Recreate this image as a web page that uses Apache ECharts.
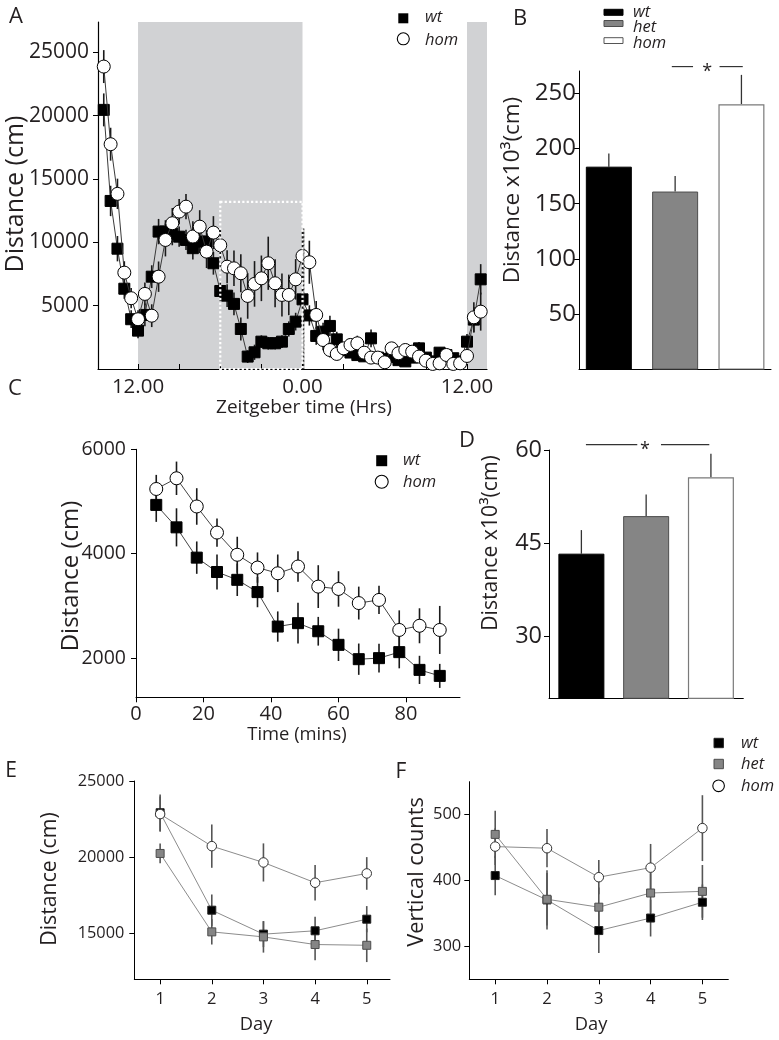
<!DOCTYPE html>
<html><head><meta charset="utf-8">
<script src="https://cdn.jsdelivr.net/npm/echarts@6/dist/echarts.min.js"></script>
<style>html,body{margin:0;padding:0;background:#fff}#c{width:779px;height:1040px}</style>
</head><body><div id="c"></div>
<script>
// ---------- Panel A: 24h activity (ZT hours, 30-min bins) ----------
const timeA = [9.5,10,10.5,11,11.5,12,12.5,13,13.5,14,14.5,15,15.5,16,16.5,17,17.5,18,18.5,19,19.5,20,20.5,21,21.5,22,22.5,23,23.5,24,24.5,25,25.5,26,26.5,27,27.5,28,28.5,29,29.5,30,30.5,31,31.5,32,32.5,33,33.5,34,34.5,35,35.5,36,36.5,37];
const wtA = [20460,13270,9500,6340,3930,3030,4270,7290,10850,10850,10670,10450,10190,9540,10060,10060,8350,6160,5790,5140,3160,980,1320,2160,2030,2030,2160,3160,3740,5500,4230,2610,2950,3400,2340,1500,1300,1100,1000,2420,900,800,950,700,600,900,1630,900,600,1290,1100,850,600,2160,3900,7080];
const homA = [23880,17750,13830,7610,5590,3930,5930,4210,7290,10190,11510,12430,12820,10460,11240,9270,10770,9770,8080,7950,7560,5770,6720,7160,8350,6770,5850,5850,7080,8930,8430,4270,2290,1500,1190,1630,1900,2030,1290,900,900,530,1630,1240,1500,1370,980,660,400,450,1110,400,450,1030,4080,4530];
const wtAErr = [1300,1200,1000,800,700,600,900,900,1000,900,900,800,800,900,900,900,900,800,900,900,900,500,600,500,500,500,500,600,700,900,800,700,700,800,600,500,400,400,400,700,400,400,400,300,300,400,500,400,300,400,400,300,300,600,1000,1200];
const homAErr = [1300,1300,1200,900,800,700,900,900,1200,1300,1200,1000,1000,1200,1300,1300,1300,1200,1300,1400,1500,1800,1800,1800,2100,1900,1700,1600,1600,1900,1700,1100,800,600,500,500,500,600,500,400,400,400,500,400,400,400,400,400,400,400,500,400,400,500,1200,1500];
const darkPhases = [[12,24],[36,37.46]];
const zoomBox = [18,24,0,13200];
const ticksA = [12,15,18,21,24,27,30,33,36];
const labelsA = [12,24,36];
const yTicksA = [5000,10000,15000,20000,25000];

// ---------- Panels B and D: totals ----------
const genotypes = ['wt','het','hom'];
const barB = [183.5,161,240];
const errB = [12,14,26.5];
const yTicksB = [50,100,150,200,250];
const barD = [43.3,49.35,55.6];
const errD = [3.8,3.5,3.8];
const yTicksD = [30,45,60];

// ---------- Panel C: first 90 minutes ----------
const timeC = [6,12,18,24,30,36,42,48,54,60,66,72,78,84,90];
const wtC = [4935,4505,3925,3650,3500,3265,2605,2670,2515,2255,1980,2000,2115,1775,1660];
const homC = [5240,5445,4905,4405,3980,3735,3625,3755,3370,3325,3055,3115,2540,2620,2540];
const wtCErr = [325,365,310,335,310,290,290,390,275,310,300,275,310,270,230];
const homCErr = [270,320,350,270,345,290,360,290,410,340,315,270,375,335,460];
const xTicksC = [0,20,40,60,80];
const yTicksC = [2000,4000,6000];

// ---------- Panels E and F: by day ----------
const days = [1,2,3,4,5];
const wtE = [22920,16530,14960,15180,15940];
const hetE = [20250,15110,14780,14280,14230];
const homE = [22830,20730,19660,18330,18940];
const wtEErr = [1200,1030,850,920,860];
const hetEErr = [650,830,1030,1030,1100];
const homEErr = [1150,1420,1250,1170,1070];
const yTicksE = [15000,20000,25000];
const wtF = [407.5,370.5,324,343,367];
const hetF = [470,371.5,359.5,381,383.5];
const homF = [451.5,449,405,419.5,479.5];
const wtFErr = [30,45,34,28,27];
const hetFErr = [36,40,30,30,40];
const homFErr = [28,29,26,36,50];
const yTicksF = [300,400,500];

const FONT = 'Open Sans';
const INK = '#231f20';
const GRAY = '#858585';
const plain = v => String(v);

function pairs(xs, ys){ return xs.map((x,i)=>[x, ys[i]]); }
function errSeries(g, xs, ys, es, color, width, up, z){
  return {type:'custom', xAxisIndex:g, yAxisIndex:g, silent:true, z:z||1, clip:false, animation:false,
    data: xs.map((x,i)=>[x, ys[i], es[i]]),
    renderItem(p, api){
      const x=api.value(0), y=api.value(1), e=api.value(2);
      const a=api.coord([x, up ? y : y-e]);
      const b=api.coord([x, y+e]);
      return {type:'line', shape:{x1:a[0],y1:a[1],x2:b[0],y2:b[1]}, style:{stroke:color, lineWidth:width}};
    }};
}
function lineSeries(g, xs, ys, sym, size, fill, border, lineColor, z){
  return {type:'line', xAxisIndex:g, yAxisIndex:g, data:pairs(xs,ys), symbol:sym, symbolSize:size,
    showSymbol:true, showAllSymbol:true, animation:false, z:z, silent:true,
    lineStyle:{color:lineColor, width:1}, itemStyle:{color:fill, borderColor:border, borderWidth:1}};
}
function rectSeries(g, rects, style, z){
  return {type:'custom', xAxisIndex:g, yAxisIndex:g, silent:true, z:z, clip:false, animation:false, data:rects,
    renderItem(p, api){
      const a=api.coord([api.value(0), api.value(3)]);
      const b=api.coord([api.value(1), api.value(2)]);
      return {type:'rect', shape:{x:a[0], y:a[1], width:b[0]-a[0], height:b[1]-a[1]}, style:style};
    }};
}
function barSeries(g, vals){
  const styles = [
    {color:'#000', borderColor:'#000', borderWidth:1},
    {color:GRAY, borderColor:'#4d4d4d', borderWidth:1},
    {color:'#fff', borderColor:'#7a7a7a', borderWidth:1.2}];
  return {type:'bar', xAxisIndex:g, yAxisIndex:g, barWidth:46, silent:true, animation:false, z:2,
    data: vals.map((v,i)=>({value:[i+1, v], itemStyle:styles[i]}))};
}
function xAx(g, min, max, ticks, labels, o){
  o = o || {};
  return {type:'value', gridIndex:g, min:min, max:max, splitLine:{show:false},
    axisLine:{show:true, onZero:false, lineStyle:{color:'#000', width:o.lw||1}},
    axisTick:{show:!!ticks, inside:!!o.inside, length:5, customValues:ticks||[], lineStyle:{color:'#000', width:1}},
    axisLabel:{show:!!labels, customValues:labels||[], margin:o.margin||8, color:INK, fontFamily:FONT, fontSize:o.fs||18, formatter:o.fmt||plain}};
}
function yAx(g, min, max, ticks, o){
  return {type:'value', gridIndex:g, min:min, max:max, splitLine:{show:false},
    axisLine:{show:true, onZero:false, lineStyle:{color:'#000', width:o.lw||1}},
    axisTick:{show:true, length:5, customValues:ticks, lineStyle:{color:'#000', width:1}},
    axisLabel:{customValues:ticks, margin:o.margin, color:INK, fontFamily:FONT, fontSize:o.fs, formatter:plain}};
}

const chart = echarts.init(document.getElementById('c'));
const option = {
  animation:false,
  backgroundColor:'#fff',
  grid:[
    {left:98, top:22, width:389, height:347, outerBoundsMode:'none'},
    {left:579, top:71, width:192, height:298.6, outerBoundsMode:'none'},
    {left:136, top:449.3, width:324, height:248, outerBoundsMode:'none'},
    {left:549, top:450, width:194.3, height:248.3, outerBoundsMode:'none'},
    {left:134.3, top:781, width:255.7, height:198.3, outerBoundsMode:'none'},
    {left:469.3, top:781.7, width:259, height:197.6, outerBoundsMode:'none'}
  ],
  xAxis:[
    xAx(0, 9.08, 37.46, ticksA, labelsA, {inside:true, fs:20.5, margin:8, lw:1.2, fmt:v=>v===24?'0.00':'12.00'}),
    xAx(1, 0.55, 3.446, null, null),
    xAx(2, 0, 96, xTicksC, xTicksC, {fs:20, margin:7}),
    xAx(3, 0.5, 3.5, null, null),
    xAx(4, 0.5, 5.45, days, days, {fs:16.5, margin:11}),
    xAx(5, 0.5, 5.5, days, days, {fs:16.5, margin:11})
  ],
  yAxis:[
    yAx(0, 0, 27400, yTicksA, {fs:21, margin:9, lw:1.2}),
    yAx(1, 0, 270, yTicksB, {fs:24, margin:3}),
    yAx(2, 1250, 6000, yTicksC, {fs:19.5, margin:10}),
    yAx(3, 20, 60, yTicksD, {fs:23.5, margin:7}),
    yAx(4, 12000, 25000, yTicksE, {fs:16.3, margin:10}),
    yAx(5, 250, 550, yTicksF, {fs:16.5, margin:8})
  ],
  series:[
    // A
    rectSeries(0, darkPhases.map(p=>[p[0], p[1], 0, 27400]), {fill:'#d1d2d4'}, 0),
    errSeries(0, timeA, wtA, wtAErr, '#1a1a1a', 1.6, false, 1),
    errSeries(0, timeA, homA, homAErr, '#1a1a1a', 1.6, false, 1),
    lineSeries(0, timeA, wtA, 'rect', 11, '#000', '#000', '#3a3a3a', 2),
    lineSeries(0, timeA, homA, 'circle', 13, '#fff', '#000', '#3a3a3a', 3),
    rectSeries(0, [[24.08,24.08,0,11100]], {fill:'none', stroke:'#333', lineWidth:1.5, lineDash:[2,2]}, 4),
    rectSeries(0, [zoomBox], {fill:'none', stroke:'#fff', lineWidth:2.2, lineDash:[2.2,2.2]}, 5),
    // B
    barSeries(1, barB),
    errSeries(1, [1,2,3], barB, errB, '#333', 1.3, true, 1),
    // C
    errSeries(2, timeC, wtC, wtCErr, '#1a1a1a', 1.6, false, 1),
    errSeries(2, timeC, homC, homCErr, '#1a1a1a', 1.6, false, 1),
    lineSeries(2, timeC, wtC, 'rect', 11, '#000', '#000', '#444', 2),
    lineSeries(2, timeC, homC, 'circle', 13, '#fff', '#000', '#444', 3),
    // D
    barSeries(3, barD),
    errSeries(3, [1,2,3], barD, errD, '#333', 1.3, true, 1),
    // E
    errSeries(4, days, wtE, wtEErr, '#555', 1.6, false, 1),
    errSeries(4, days, hetE, hetEErr, '#555', 1.6, false, 1),
    errSeries(4, days, homE, homEErr, '#555', 1.6, false, 1),
    lineSeries(4, days, wtE, 'rect', 8, '#000', '#222', '#8c8c8c', 2),
    lineSeries(4, days, hetE, 'rect', 8, GRAY, '#4d4d4d', '#8c8c8c', 3),
    lineSeries(4, days, homE, 'circle', 9.5, '#fff', '#333', '#8c8c8c', 4),
    // F
    errSeries(5, days, wtF, wtFErr, '#555', 1.6, false, 1),
    errSeries(5, days, hetF, hetFErr, '#555', 1.6, false, 1),
    errSeries(5, days, homF, homFErr, '#555', 1.6, false, 1),
    lineSeries(5, days, wtF, 'rect', 8, '#000', '#222', '#8c8c8c', 2),
    lineSeries(5, days, hetF, 'rect', 8, GRAY, '#4d4d4d', '#8c8c8c', 3),
    lineSeries(5, days, homF, 'circle', 9.5, '#fff', '#333', '#8c8c8c', 4)
  ]
};
chart.setOption(option);

// ---------- annotations (text, legends, significance) ----------
const G = [];
function txt(t, x, y, fs, o){
  o = o || {};
  G.push({type:'text', x:x, y:y, rotation:o.rot||0, silent:true, z:100,
    style:{text:t, fill:INK, fontFamily:FONT, fontSize:fs, fontStyle:o.italic?'italic':'normal',
      align:o.align||'center', verticalAlign:'middle'}});
}
function box(x, y, w, h, fill, stroke){ G.push({type:'rect', silent:true, z:100, shape:{x:x,y:y,width:w,height:h}, style:{fill:fill, stroke:stroke||null, lineWidth:1}}); }
function dot(cx, cy, r){ G.push({type:'circle', silent:true, z:100, shape:{cx:cx,cy:cy,r:r}, style:{fill:'#fff', stroke:'#000', lineWidth:1.1}}); }
function seg(x1,y1,x2,y2,c,w){ G.push({type:'line', silent:true, z:100, shape:{x1:x1,y1:y1,x2:x2,y2:y2}, style:{stroke:c, lineWidth:w}}); }
const V = Math.PI/2;

// panel letters
txt('A', 16, 17, 22); txt('B', 520, 19, 22); txt('C', 15, 389, 22);
txt('D', 467, 441, 22); txt('E', 11, 771, 21); txt('F', 401, 772, 21);
// axis names
txt('Distance (cm)', 16, 194, 25, {rot:V});
txt('Zeitgeber time (Hrs)', 304, 408, 19);
txt('Distance x10\u00b3(cm)', 513, 190, 22.5, {rot:V});
txt('Distance (cm)', 71, 576, 24, {rot:V});
txt('Time (mins)', 297, 735, 18.4);
txt('Distance x10\u00b3(cm)', 491, 543, 21.2, {rot:V});
txt('Distance (cm)', 50, 879, 21.3, {rot:V});
txt('Day', 256, 1025, 18.3);
txt('Vertical counts', 417, 872, 21.8, {rot:V});
txt('Day', 591, 1025, 18.3);
// legend A
box(398.3, 13.3, 10, 10, '#000'); dot(403.3, 38.8, 6);
txt(genotypes[0], 425, 17, 16.5, {italic:true, align:'left'});
txt(genotypes[2], 425, 40, 16.5, {italic:true, align:'left'});
// legend B
box(604, 9.3, 19, 6, '#000', '#000'); box(604, 20.5, 19, 6, GRAY, '#4d4d4d'); box(604, 37.7, 19, 5.8, '#fff', '#555');
txt(genotypes[0], 633, 12, 16.5, {italic:true, align:'left'});
txt(genotypes[1], 633, 27, 16.5, {italic:true, align:'left'});
txt(genotypes[2], 633, 43, 16.5, {italic:true, align:'left'});
// legend C
box(376.2, 455.2, 11, 11, '#000'); dot(381.7, 481.7, 6.5);
txt(genotypes[0], 403, 460.5, 16.5, {italic:true, align:'left'});
txt(genotypes[2], 403, 482, 16.5, {italic:true, align:'left'});
// legend F
box(714, 738.3, 9.4, 9.4, '#000', '#222'); box(714, 759.3, 9.4, 9.4, GRAY, '#4d4d4d'); dot(718.6, 785.8, 5.8);
txt(genotypes[0], 741, 743.7, 16.5, {italic:true, align:'left'});
txt(genotypes[1], 741, 764.4, 16.5, {italic:true, align:'left'});
txt(genotypes[2], 741, 786, 16.5, {italic:true, align:'left'});

// significance brackets, positioned in data space
const sigB = {x1:1.95, x2:3.02, g1:2.27, g2:2.67, star:2.485, y:274};
const sigD = {x1:1.07, x2:2.975, g1:1.863, g2:2.229, star:1.98, y:60.87};
[[1, sigB], [3, sigD]].forEach(([g, s])=>{
  const P = v => chart.convertToPixel({xAxisIndex:g, yAxisIndex:g}, [v, s.y]);
  const a = P(s.x1), b = P(s.g1), c = P(s.g2), d = P(s.x2), m = P(s.star);
  seg(a[0], a[1], b[0], b[1], '#333', 1.2);
  seg(c[0], c[1], d[0], d[1], '#333', 1.2);
  txt('*', m[0], m[1] + 4.8, 18);
});
chart.setOption({graphic: G});
</script></body></html>
